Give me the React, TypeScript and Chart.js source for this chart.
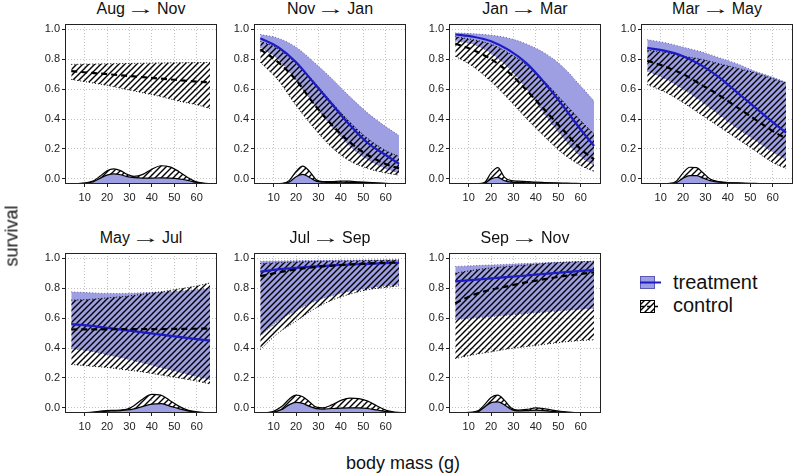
import { useEffect, useRef } from 'react';
import { Chart, registerables } from 'chart.js';

Chart.register(...registerables);

// body mass grid (g) for fitted survival curves and their intervals
const MASS = [4, 12, 20, 28, 36, 44, 52, 60, 66];
// body mass grid (g) for the mass-distribution curves along the bottom
const DENS_MASS = [1.2, 8, 14, 17, 20, 23, 26, 29, 32, 36, 40, 44, 48, 52, 56, 60, 64, 69];
const MASS_TICKS = [10, 20, 30, 40, 50, 60];
const SURV_TICKS = [0, 0.2, 0.4, 0.6, 0.8, 1.0];

// Aug → Nov (control only)
const augNovCtrlMean = [0.72, 0.71, 0.7, 0.69, 0.68, 0.67, 0.66, 0.65, 0.645];
const augNovCtrlHi = [0.765, 0.767, 0.769, 0.771, 0.773, 0.775, 0.776, 0.777, 0.778];
const augNovCtrlLo = [0.665, 0.645, 0.625, 0.6, 0.575, 0.55, 0.52, 0.495, 0.47];
const augNovCtrlDens = [-0.033, -0.03, -0.012, 0.02, 0.055, 0.067, 0.055, 0.03, 0.017, 0.03, 0.065, 0.088, 0.08, 0.05, 0.01, -0.02, -0.03, -0.033];
const augNovTrtDens = [-0.033, -0.031, -0.018, 0.005, 0.025, 0.033, 0.028, 0.015, 0.008, 0.005, 0.005, 0.007, 0.005, 0.0, -0.01, -0.024, -0.031, -0.033];

// Nov → Jan
const novJanTrtMean = [0.94, 0.88, 0.78, 0.64, 0.5, 0.36, 0.24, 0.16, 0.1];
const novJanTrtHi = [0.965, 0.94, 0.88, 0.78, 0.67, 0.55, 0.44, 0.35, 0.29];
const novJanTrtLo = [0.88, 0.8, 0.66, 0.5, 0.35, 0.22, 0.13, 0.07, 0.04];
const novJanCtrlMean = [0.865, 0.78, 0.66, 0.5, 0.36, 0.245, 0.16, 0.1, 0.07];
const novJanCtrlHi = [0.92, 0.87, 0.77, 0.65, 0.51, 0.38, 0.27, 0.19, 0.15];
const novJanCtrlLo = [0.78, 0.66, 0.49, 0.34, 0.21, 0.12, 0.07, 0.04, 0.025];
const novJanCtrlDens = [-0.033, -0.033, -0.03, -0.01, 0.05, 0.085, 0.05, -0.005, -0.018, -0.018, -0.014, -0.015, -0.02, -0.023, -0.027, -0.03, -0.032, -0.033];
const novJanTrtDens = [-0.033, -0.033, -0.031, -0.02, 0.015, 0.03, 0.01, -0.015, -0.022, -0.024, -0.022, -0.023, -0.025, -0.027, -0.029, -0.031, -0.032, -0.033];

// Jan → Mar
const janMarTrtMean = [0.965, 0.95, 0.92, 0.86, 0.77, 0.64, 0.49, 0.33, 0.22];
const janMarTrtHi = [0.975, 0.97, 0.96, 0.94, 0.9, 0.84, 0.75, 0.62, 0.52];
const janMarTrtLo = [0.92, 0.9, 0.84, 0.74, 0.6, 0.43, 0.28, 0.15, 0.09];
const janMarCtrlMean = [0.905, 0.86, 0.8, 0.71, 0.59, 0.46, 0.33, 0.2, 0.13];
const janMarCtrlHi = [0.95, 0.93, 0.9, 0.84, 0.76, 0.65, 0.52, 0.39, 0.3];
const janMarCtrlLo = [0.82, 0.75, 0.65, 0.53, 0.4, 0.28, 0.17, 0.09, 0.05];
const janMarCtrlDens = [-0.033, -0.033, -0.032, -0.025, 0.04, 0.075, 0.01, -0.012, -0.015, -0.018, -0.022, -0.024, -0.026, -0.028, -0.029, -0.031, -0.032, -0.033];
const janMarTrtDens = [-0.033, -0.033, -0.033, -0.03, 0.0, 0.01, -0.012, -0.022, -0.024, -0.026, -0.028, -0.029, -0.03, -0.031, -0.032, -0.032, -0.033, -0.033];

// Mar → May
const marMayTrtMean = [0.875, 0.855, 0.82, 0.76, 0.68, 0.58, 0.48, 0.38, 0.31];
const marMayTrtHi = [0.93, 0.91, 0.88, 0.85, 0.81, 0.77, 0.72, 0.68, 0.645];
const marMayTrtLo = [0.72, 0.67, 0.6, 0.52, 0.43, 0.34, 0.26, 0.18, 0.13];
const marMayCtrlMean = [0.79, 0.75, 0.7, 0.63, 0.56, 0.48, 0.4, 0.32, 0.27];
const marMayCtrlHi = [0.86, 0.845, 0.82, 0.8, 0.77, 0.74, 0.71, 0.67, 0.64];
const marMayCtrlLo = [0.63, 0.58, 0.51, 0.43, 0.35, 0.27, 0.19, 0.11, 0.07];
const marMayCtrlDens = [-0.033, -0.033, -0.03, -0.015, 0.04, 0.078, 0.075, 0.04, 0.0, -0.018, -0.024, -0.027, -0.029, -0.03, -0.031, -0.032, -0.033, -0.033];
const marMayTrtDens = [-0.033, -0.033, -0.032, -0.025, 0.005, 0.022, 0.022, 0.005, -0.012, -0.022, -0.026, -0.028, -0.03, -0.031, -0.032, -0.033, -0.033, -0.033];

// May → Jul
const mayJulTrtMean = [0.56, 0.55, 0.535, 0.52, 0.505, 0.49, 0.475, 0.46, 0.45];
const mayJulTrtHi = [0.775, 0.77, 0.765, 0.765, 0.77, 0.775, 0.78, 0.79, 0.8];
const mayJulTrtLo = [0.395, 0.38, 0.355, 0.33, 0.3, 0.27, 0.24, 0.21, 0.19];
const mayJulCtrlMean = [0.524, 0.525, 0.525, 0.526, 0.527, 0.527, 0.528, 0.529, 0.53];
const mayJulCtrlHi = [0.72, 0.725, 0.735, 0.745, 0.76, 0.775, 0.795, 0.815, 0.835];
const mayJulCtrlLo = [0.29, 0.28, 0.27, 0.255, 0.24, 0.22, 0.2, 0.18, 0.16];
const mayJulCtrlDens = [-0.033, -0.032, -0.028, -0.022, -0.018, -0.016, -0.014, -0.008, 0.015, 0.06, 0.09, 0.085, 0.05, 0.012, -0.015, -0.026, -0.031, -0.033];
const mayJulTrtDens = [-0.033, -0.032, -0.03, -0.026, -0.022, -0.02, -0.018, -0.014, -0.006, 0.01, 0.025, 0.028, 0.012, -0.005, -0.02, -0.028, -0.031, -0.033];

// Jul → Sep
const julSepTrtMean = [0.91, 0.925, 0.935, 0.945, 0.952, 0.958, 0.963, 0.967, 0.97];
const julSepTrtHi = [0.98, 0.982, 0.984, 0.985, 0.986, 0.987, 0.988, 0.989, 0.99];
const julSepTrtLo = [0.48, 0.58, 0.65, 0.71, 0.75, 0.78, 0.8, 0.815, 0.825];
const julSepCtrlMean = [0.88, 0.905, 0.925, 0.94, 0.95, 0.958, 0.965, 0.97, 0.972];
const julSepCtrlHi = [0.965, 0.97, 0.975, 0.978, 0.98, 0.982, 0.984, 0.986, 0.987];
const julSepCtrlLo = [0.39, 0.5, 0.58, 0.66, 0.72, 0.76, 0.79, 0.805, 0.815];
const julSepCtrlDens = [-0.033, -0.03, 0.015, 0.06, 0.085, 0.075, 0.04, 0.005, 0.0, 0.02, 0.05, 0.066, 0.062, 0.045, 0.015, -0.015, -0.028, -0.033];
const julSepTrtDens = [-0.033, -0.031, -0.008, 0.022, 0.037, 0.03, 0.01, -0.005, -0.008, -0.004, -0.001, 0.0, 0.0, -0.004, -0.014, -0.025, -0.031, -0.033];

// Sep → Nov
const sepNovTrtMean = [0.845, 0.855, 0.865, 0.875, 0.885, 0.895, 0.905, 0.915, 0.92];
const sepNovTrtHi = [0.945, 0.95, 0.955, 0.96, 0.965, 0.97, 0.975, 0.978, 0.98];
const sepNovTrtLo = [0.59, 0.6, 0.61, 0.62, 0.63, 0.64, 0.65, 0.66, 0.665];
const sepNovCtrlMean = [0.7, 0.755, 0.79, 0.815, 0.84, 0.86, 0.88, 0.895, 0.905];
const sepNovCtrlHi = [0.9, 0.92, 0.935, 0.945, 0.955, 0.965, 0.972, 0.977, 0.98];
const sepNovCtrlLo = [0.33, 0.355, 0.375, 0.395, 0.41, 0.425, 0.44, 0.45, 0.455];
const sepNovCtrlDens = [-0.033, -0.032, -0.02, 0.02, 0.07, 0.085, 0.05, 0.0, -0.015, -0.01, 0.0, -0.006, -0.016, -0.024, -0.029, -0.031, -0.032, -0.033];
const sepNovTrtDens = [-0.033, -0.033, -0.026, 0.005, 0.035, 0.04, 0.02, -0.01, -0.02, -0.018, -0.015, -0.018, -0.024, -0.028, -0.031, -0.032, -0.033, -0.033];

type Band = { mean: number[]; hi: number[]; lo: number[] };
type Panel = {
  from: string;
  to: string;
  trt: Band | null;
  ctrl: Band;
  trtDens: number[];
  ctrlDens: number[];
  col: number;
  row: number;
};

const PANELS: Panel[] = [
  { from: 'Aug', to: 'Nov', trt: null, ctrl: { mean: augNovCtrlMean, hi: augNovCtrlHi, lo: augNovCtrlLo }, trtDens: augNovTrtDens, ctrlDens: augNovCtrlDens, col: 0, row: 0 },
  { from: 'Nov', to: 'Jan', trt: { mean: novJanTrtMean, hi: novJanTrtHi, lo: novJanTrtLo }, ctrl: { mean: novJanCtrlMean, hi: novJanCtrlHi, lo: novJanCtrlLo }, trtDens: novJanTrtDens, ctrlDens: novJanCtrlDens, col: 1, row: 0 },
  { from: 'Jan', to: 'Mar', trt: { mean: janMarTrtMean, hi: janMarTrtHi, lo: janMarTrtLo }, ctrl: { mean: janMarCtrlMean, hi: janMarCtrlHi, lo: janMarCtrlLo }, trtDens: janMarTrtDens, ctrlDens: janMarCtrlDens, col: 2, row: 0 },
  { from: 'Mar', to: 'May', trt: { mean: marMayTrtMean, hi: marMayTrtHi, lo: marMayTrtLo }, ctrl: { mean: marMayCtrlMean, hi: marMayCtrlHi, lo: marMayCtrlLo }, trtDens: marMayTrtDens, ctrlDens: marMayCtrlDens, col: 3, row: 0 },
  { from: 'May', to: 'Jul', trt: { mean: mayJulTrtMean, hi: mayJulTrtHi, lo: mayJulTrtLo }, ctrl: { mean: mayJulCtrlMean, hi: mayJulCtrlHi, lo: mayJulCtrlLo }, trtDens: mayJulTrtDens, ctrlDens: mayJulCtrlDens, col: 0, row: 1 },
  { from: 'Jul', to: 'Sep', trt: { mean: julSepTrtMean, hi: julSepTrtHi, lo: julSepTrtLo }, ctrl: { mean: julSepCtrlMean, hi: julSepCtrlHi, lo: julSepCtrlLo }, trtDens: julSepTrtDens, ctrlDens: julSepCtrlDens, col: 1, row: 1 },
  { from: 'Sep', to: 'Nov', trt: { mean: sepNovTrtMean, hi: sepNovTrtHi, lo: sepNovTrtLo }, ctrl: { mean: sepNovCtrlMean, hi: sepNovCtrlHi, lo: sepNovCtrlLo }, trtDens: sepNovTrtDens, ctrlDens: sepNovCtrlDens, col: 2, row: 1 },
];

// page layout
const PANEL_LEFT = [65, 254, 449, 641];
const ROW_TOP = [24, 253];
const PLOT_W = 152;
const PLOT_H = 160;
const PAD_L = 46;
const PAD_T = 4;
const PAD_R = 6;
const PAD_B = 26;

const FONT = '"Liberation Sans", Arial, Helvetica, sans-serif';
const TRT_FILL = 'rgb(158,158,226)';
const TRT_EDGE = '#5a5ab4';
const TRT_LINE = '#1c1cc4';
const INK = '#222222';

function makeHatch(ctx: CanvasRenderingContext2D): CanvasPattern {
  const tile = document.createElement('canvas');
  tile.width = 6;
  tile.height = 6;
  const g = tile.getContext('2d')!;
  g.strokeStyle = '#000';
  g.lineWidth = 1.4;
  g.beginPath();
  g.moveTo(0, 6);
  g.lineTo(6, 0);
  g.moveTo(-1, 1);
  g.lineTo(1, -1);
  g.moveTo(5, 7);
  g.lineTo(7, 5);
  g.stroke();
  return ctx.createPattern(tile, 'repeat')!;
}

const framePlugin = {
  id: 'panelFrame',
  afterDatasetsDraw(chart: any) {
    const { ctx, chartArea: a } = chart;
    ctx.save();
    ctx.strokeStyle = INK;
    ctx.lineWidth = 1;
    ctx.strokeRect(a.left + 0.5, a.top + 0.5, a.right - a.left - 1, a.bottom - a.top - 1);
    ctx.restore();
  },
};

const toPoints = (xs: number[], ys: number[]) => xs.map((x, i) => ({ x, y: ys[i] }));

function PanelChart({ panel }: { panel: Panel }) {
  const ref = useRef<HTMLCanvasElement>(null);
  useEffect(() => {
    const canvas = ref.current!;
    const ctx = canvas.getContext('2d')!;
    const hatch = makeHatch(ctx);
    const base = { pointRadius: 0, pointHoverRadius: 0, cubicInterpolationMode: 'monotone', fill: false };
    const datasets: any[] = [];
    if (panel.trt) {
      datasets.push({ ...base, data: toPoints(MASS, panel.trt.lo), borderColor: TRT_EDGE, borderWidth: 1, borderDash: [1, 2], fill: '+1', backgroundColor: TRT_FILL, order: 20 });
      datasets.push({ ...base, data: toPoints(MASS, panel.trt.hi), borderColor: TRT_EDGE, borderWidth: 1, borderDash: [1, 2], order: 19 });
    }
    datasets.push({ ...base, data: toPoints(MASS, panel.ctrl.lo), borderColor: '#000', borderWidth: 1, borderDash: [1, 2], fill: '+1', backgroundColor: hatch, order: 18 });
    datasets.push({ ...base, data: toPoints(MASS, panel.ctrl.hi), borderColor: '#000', borderWidth: 1, borderDash: [1, 2], order: 17 });
    if (panel.trt) {
      datasets.push({ ...base, data: toPoints(MASS, panel.trt.mean), borderColor: TRT_LINE, borderWidth: 2.2, order: 16 });
    }
    datasets.push({ ...base, data: toPoints(MASS, panel.ctrl.mean), borderColor: '#000', borderWidth: 2.2, borderDash: [6, 4], order: 15 });
    datasets.push({ ...base, data: toPoints(DENS_MASS, panel.ctrlDens), borderColor: '#000', borderWidth: 1.2, fill: 'start', backgroundColor: hatch, order: 14 });
    datasets.push({ ...base, data: toPoints(DENS_MASS, panel.trtDens), borderColor: '#000', borderWidth: 1.2, fill: 'start', backgroundColor: TRT_FILL, order: 13 });

    const tickFont = { size: 11, family: FONT };
    const chart = new Chart(canvas, {
      type: 'line',
      data: { datasets },
      plugins: [framePlugin],
      options: {
        responsive: false,
        animation: false,
        events: [],
        layout: { padding: { left: 0, top: PAD_T, right: PAD_R, bottom: 0 } },
        plugins: { legend: { display: false }, tooltip: { enabled: false }, title: { display: false } },
        scales: {
          x: {
            type: 'linear',
            min: 1.2,
            max: 69.1,
            afterBuildTicks: (s: any) => {
              s.ticks = MASS_TICKS.map((v) => ({ value: v }));
            },
            afterFit: (s: any) => {
              s.height = PAD_B;
              s.paddingLeft = 0;
              s.paddingRight = 0;
            },
            grid: { color: '#c2c2c2', lineWidth: 1, drawTicks: true, tickLength: 3, tickColor: INK, tickWidth: 1 },
            border: { display: false, dash: [1, 2] },
            ticks: { color: INK, font: tickFont, padding: 4, maxRotation: 0, autoSkip: false, callback: (v: any) => String(v) },
          },
          y: {
            type: 'linear',
            min: -0.034,
            max: 1.035,
            afterBuildTicks: (s: any) => {
              s.ticks = SURV_TICKS.map((v) => ({ value: v }));
            },
            afterFit: (s: any) => {
              s.width = PAD_L;
              s.paddingTop = 0;
              s.paddingBottom = 0;
            },
            grid: { color: '#c2c2c2', lineWidth: 1, drawTicks: true, tickLength: 3, tickColor: INK, tickWidth: 1 },
            border: { display: false, dash: [1, 2] },
            ticks: { color: INK, font: tickFont, padding: 2, autoSkip: false, callback: (v: any) => Number(v).toFixed(1) },
          },
        },
      } as any,
    });
    return () => chart.destroy();
  }, [panel]);

  const left = PANEL_LEFT[panel.col];
  const top = ROW_TOP[panel.row];
  const w = PAD_L + PLOT_W + PAD_R;
  const h = PAD_T + PLOT_H + PAD_B;
  return (
    <>
      <div
        style={{
          position: 'absolute',
          left,
          top: top - 23,
          width: PLOT_W,
          textAlign: 'center',
          fontFamily: FONT,
          fontSize: 16,
          lineHeight: '16px',
          color: '#111',
          whiteSpace: 'nowrap',
        }}
      >
        {panel.from}
        <span style={{ display: 'inline-block', margin: '0 8px', transform: 'scaleX(1.8)' }}>→</span>
        {panel.to}
      </div>
      <canvas
        ref={ref}
        width={w}
        height={h}
        style={{ position: 'absolute', left: left - PAD_L, top: top - PAD_T, width: w, height: h }}
      />
    </>
  );
}

function LegendKey({ kind, left, top }: { kind: 'trt' | 'ctrl'; left: number; top: number }) {
  const ref = useRef<HTMLCanvasElement>(null);
  useEffect(() => {
    const ctx = ref.current!.getContext('2d')!;
    ctx.clearRect(0, 0, 26, 16);
    if (kind === 'trt') {
      ctx.fillStyle = TRT_FILL;
      ctx.fillRect(0.5, 1.5, 14, 12);
      ctx.strokeStyle = TRT_EDGE;
      ctx.lineWidth = 1;
      ctx.strokeRect(0.5, 1.5, 14, 12);
      ctx.strokeStyle = TRT_LINE;
      ctx.lineWidth = 2;
      ctx.beginPath();
      ctx.moveTo(0, 7.5);
      ctx.lineTo(21, 7.5);
      ctx.stroke();
    } else {
      ctx.fillStyle = makeHatch(ctx);
      ctx.fillRect(0.5, 1.5, 14, 12);
      ctx.strokeStyle = '#000';
      ctx.lineWidth = 1;
      ctx.strokeRect(0.5, 1.5, 14, 12);
      ctx.lineWidth = 1.6;
      ctx.setLineDash([4, 3]);
      ctx.beginPath();
      ctx.moveTo(0, 7.5);
      ctx.lineTo(21, 7.5);
      ctx.stroke();
    }
  }, [kind]);
  return <canvas ref={ref} width={26} height={16} style={{ position: 'absolute', left, top, width: 26, height: 16 }} />;
}

export default function App() {
  const text = { position: 'absolute' as const, fontFamily: FONT, color: '#111', whiteSpace: 'nowrap' as const };
  return (
    <div style={{ position: 'absolute', left: 0, top: 0, width: 794, height: 476, background: '#fff', overflow: 'hidden' }}>
      {PANELS.map((p) => (
        <PanelChart key={p.from + p.to} panel={p} />
      ))}
      <div style={{ ...text, left: 12, top: 236, fontSize: 18, transform: 'translate(-50%, -50%) rotate(-90deg)' }}>survival</div>
      <div style={{ ...text, left: 403, top: 463, fontSize: 18, transform: 'translate(-50%, -50%)' }}>body mass (g)</div>
      <LegendKey kind="trt" left={640} top={275} />
      <LegendKey kind="ctrl" left={640} top={299} />
      <div style={{ ...text, left: 673, top: 271, fontSize: 20, lineHeight: '22px' }}>treatment</div>
      <div style={{ ...text, left: 673, top: 294, fontSize: 20, lineHeight: '22px' }}>control</div>
    </div>
  );
}
